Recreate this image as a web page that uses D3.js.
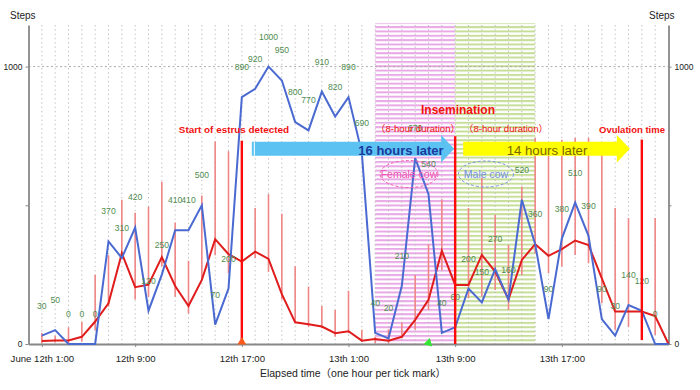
<!DOCTYPE html>
<html>
<head>
<meta charset="utf-8">
<script src="https://cdn.jsdelivr.net/npm/d3@7"></script>
<style>
  body { margin: 0; background: #fff; }
  svg { display: block; font-family: "Liberation Sans", Arial, "Noto Sans CJK JP", sans-serif; }
  .axis path, .axis line { stroke: #888; }
  .axis text { fill: #222; }
</style>
</head>
<body>
<div id="chart"></div>
<script>
// hourly readings, index 0 = June 12th 1:00
const steps = [30, 50, 0, 0, 0, 370, 310, 420, 120, 250, 410, 410, 500, 70, 200, 890,
  920, 1000, 950, 800, 770, 910, 820, 890, 690, 40, 20, 210, 670, 540, 40, 60,
  200, 150, 270, 160, 520, 360, 90, 380, 510, 390, 90, 30, 140, 120, 0, 0];
const average = [11, 13, 13, 26, 81, 147, 327, 205, 214, 313, 209, 137, 231, 378, 324, 297,
  333, 307, 180, 78, 71, 63, 39, 46, 12, 18, 12, 26, 87, 159, 336, 213,
  213, 321, 261, 161, 303, 360, 318, 342, 373, 357, 237, 117, 117, 117, 101, 0];
const rangeLow = [3, 5, 4, 8, 50, 135, 310, 160, 170, 280, 170, 110, 230, 320, 255, 255,
  310, 260, 160, 75, 62, 57, 26, 39, 8, 3, 3, 21, 51, 123, 267, 160,
  165, 171, 195, 123, 249, 327, 255, 279, 321, 291, 147, 51, 62, 60, 32, null];
const rangeHigh = [40, 30, 60, 80, 250, 320, 520, 473, 495, 585, 438, 300, 535, 730, 695, 540,
  490, 540, 470, 280, 207, 137, 123, 192, 51, 26, 53, 77, 249, 360, 522, 280,
  490, 600, 466, 357, 568, 743, 679, 736, 743, 743, 690, 490, 454, 450, 454, null];

const tickHours = [0, 7, 15, 23, 31, 39];
const tickLabels = ["June 12th 1:00", "12th 9:00", "12th 17:00", "13th 1:00", "13th 9:00", "13th 17:00"];
const stepTicks = [0, 500, 1000];

const estrusHour = 15;
const inseminationHour = 31;
const ovulationHour = 45;
const femaleWindow = [25, 31];
const maleWindow = [31, 37];
const markerHour = 29;

document.addEventListener("DOMContentLoaded", function () {
    const width = 700, height = 390;
    const svg = d3.select("#chart").append("svg")
        .attr("width", width).attr("height", height);

    const x = d3.scaleLinear().domain([-1, 47]).range([28.5, 668.5]);
    const y = d3.scaleLinear().domain([0, 1150]).range([344, 25]);

    // stripe patterns
    const defs = svg.append("defs");
    function stripes(id, color) {
        const p = defs.append("pattern").attr("id", id)
            .attr("patternUnits", "userSpaceOnUse")
            .attr("width", 10).attr("height", 4.35);
        p.append("rect").attr("width", 10).attr("height", 4.35).attr("fill", "#fff");
        p.append("rect").attr("width", 10).attr("height", 2).attr("fill", color);
    }
    stripes("pink", "#e9a9e6");
    stripes("green", "#c6de98");

    svg.append("rect")
        .attr("x", x(femaleWindow[0])).attr("width", x(femaleWindow[1]) - x(femaleWindow[0]))
        .attr("y", 23).attr("height", y(0) - 23)
        .attr("fill", "url(#pink)");
    svg.append("rect")
        .attr("x", x(maleWindow[0])).attr("width", x(maleWindow[1]) - x(maleWindow[0]))
        .attr("y", 23).attr("height", y(0) - 23)
        .attr("fill", "url(#green)");

    // dotted grid
    svg.append("g").selectAll("line")
        .data(d3.range(0, 47))
        .enter().append("line")
        .attr("x1", d => x(d)).attr("x2", d => x(d))
        .attr("y1", y(1150)).attr("y2", y(0))
        .attr("stroke", "#bdbdbd").attr("stroke-width", 1)
        .attr("stroke-dasharray", "1.3,3");
    svg.append("line")
        .attr("x1", x(-1)).attr("x2", x(47))
        .attr("y1", y(1000)).attr("y2", y(1000))
        .attr("stroke", "#aaa").attr("stroke-dasharray", "2,2.5");

    // range bars
    svg.append("g").selectAll("line")
        .data(steps.map((d, i) => i).filter(i => rangeLow[i] != null))
        .enter().append("line")
        .attr("x1", i => x(i)).attr("x2", i => x(i))
        .attr("y1", i => y(rangeHigh[i])).attr("y2", i => y(rangeLow[i]))
        .attr("stroke", "#f08585").attr("stroke-width", 1.6);

    // axes
    svg.append("g").attr("class", "axis")
        .attr("transform", `translate(0,${y(0)})`)
        .call(d3.axisBottom(x).tickValues(tickHours).tickFormat((d, i) => tickLabels[i])
            .tickSize(3).tickSizeOuter(0))
        .call(g => g.select(".domain").attr("stroke-width", 1.8))
        .call(g => g.selectAll("text").attr("font-size", 9.6).attr("dy", "1.2em"));

    svg.append("g").attr("class", "axis")
        .attr("transform", `translate(${x(-1)},0)`)
        .call(d3.axisLeft(y).tickValues(stepTicks).tickFormat(d => d === 500 ? "" : d)
            .tickSize(3).tickSizeOuter(0))
        .call(g => g.select(".domain").attr("stroke-width", 1.8))
        .call(g => g.selectAll("text").attr("font-size", 8.5).attr("fill", "#333"));

    svg.append("g").attr("class", "axis")
        .attr("transform", `translate(${x(47)},0)`)
        .call(d3.axisRight(y).tickValues(stepTicks).tickFormat(d => d === 500 ? "" : d)
            .tickSize(3).tickSizeOuter(0))
        .call(g => g.select(".domain").attr("stroke-width", 1.8))
        .call(g => g.selectAll("text").attr("font-size", 8.5).attr("fill", "#333"));

    svg.append("text").attr("x", 10).attr("y", 19).attr("font-size", 10).attr("fill", "#222").text("Steps");
    svg.append("text").attr("x", 649).attr("y", 19).attr("font-size", 10).attr("fill", "#222").text("Steps");
    svg.append("text").attr("x", 353).attr("y", 377).attr("text-anchor", "middle")
        .attr("font-size", 10.5).attr("fill", "#222")
        .text("Elapsed time（one hour per tick mark）");

    // lines
    const line = d3.line().x((d, i) => x(i)).y(d => y(d));
    svg.append("path").datum(average)
        .attr("d", line).attr("fill", "none")
        .attr("stroke", "#e01c1c").attr("stroke-width", 2);
    svg.append("path").datum(steps)
        .attr("d", line).attr("fill", "none")
        .attr("stroke", "#4a6ad2").attr("stroke-width", 2);

    // step labels
    svg.append("g").selectAll("text")
        .data(steps.slice(0, 47))
        .enter().append("text")
        .attr("x", (d, i) => x(i)).attr("y", d => y(d) - 27)
        .attr("text-anchor", "middle")
        .attr("font-size", 8.6).attr("fill", "#4f8c4f")
        .text(d => d);

    // event lines
    const events = [
        { h: estrusHour, top: 733 },
        { h: inseminationHour, top: 749 },
        { h: ovulationHour, top: 737, bottom: 14 }
    ];
    svg.append("g").selectAll("line")
        .data(events)
        .enter().append("line")
        .attr("x1", d => x(d.h)).attr("x2", d => x(d.h))
        .attr("y1", d => y(d.top)).attr("y2", d => y(d.bottom || 0))
        .attr("stroke", "#ff0a0a").attr("stroke-width", 2.4);

    svg.append("path")
        .attr("d", d3.symbol(d3.symbolTriangle, 34)())
        .attr("transform", `translate(${x(estrusHour)},${y(0) - 2})`)
        .attr("fill", "#ff5a1e");
    svg.append("path")
        .attr("d", d3.symbol(d3.symbolTriangle, 34)())
        .attr("transform", `translate(${x(markerHour)},${y(0) - 1}) rotate(15)`)
        .attr("fill", "#33e633");

    // arrows
    function arrow(x0, x1, color) {
        const top = 141.7, bot = 155.7, headTop = 135, headBot = 162.5, headLen = 13;
        const xm = x1 - headLen;
        svg.append("path")
            .attr("d", `M${x0},${top}L${xm},${top}L${xm},${headTop}L${x1},${(top + bot) / 2}` +
                `L${xm},${headBot}L${xm},${bot}L${x0},${bot}Z`)
            .attr("fill", color);
    }
    arrow(x(estrusHour) + 10, x(inseminationHour) - 1, "#5cc2f2");
    svg.append("line").attr("x1", x(estrusHour) + 12.5).attr("x2", x(estrusHour) + 12.5)
        .attr("y1", 141.7).attr("y2", 155.7).attr("stroke", "#fff").attr("stroke-width", 1);
    arrow(x(inseminationHour) + 8, x(ovulationHour) - 12, "#ffff00");

    svg.append("text").attr("x", 401).attr("y", 155).attr("text-anchor", "middle")
        .attr("font-size", 13).attr("font-weight", "bold").attr("fill", "#1a3a9e")
        .text("16 hours later");
    svg.append("text").attr("x", 547).attr("y", 155).attr("text-anchor", "middle")
        .attr("font-size", 13.2).attr("fill", "#7a6400")
        .text("14 hours later");

    // red annotation texts
    const red = "#f21010";
    svg.append("text").attr("x", 234).attr("y", 133).attr("text-anchor", "middle")
        .attr("font-size", 9.9).attr("font-weight", "bold").attr("fill", red)
        .text("Start of estrus detected");
    svg.append("text").attr("x", 458).attr("y", 114).attr("text-anchor", "middle")
        .attr("font-size", 12).attr("font-weight", "bold").attr("fill", red)
        .text("Insemination");
    svg.append("text").attr("x", 418).attr("y", 132).attr("text-anchor", "middle")
        .attr("font-size", 9.6).attr("fill", red)
        .text("（8-hour duration）");
    svg.append("text").attr("x", 506).attr("y", 132).attr("text-anchor", "middle")
        .attr("font-size", 9.6).attr("fill", red)
        .text("（8-hour duration）");
    svg.append("text").attr("x", 632).attr("y", 133).attr("text-anchor", "middle")
        .attr("font-size", 9.5).attr("font-weight", "bold").attr("fill", red)
        .text("Ovulation time");

    // cow ellipses
    svg.append("ellipse").attr("cx", 409).attr("cy", 174).attr("rx", 29).attr("ry", 13.5)
        .attr("fill", "none").attr("stroke", "#f060b0").attr("stroke-dasharray", "3,2");
    svg.append("text").attr("x", 409).attr("y", 178).attr("text-anchor", "middle")
        .attr("font-size", 10.5).attr("fill", "#f050b0").text("Female cow");
    svg.append("ellipse").attr("cx", 486).attr("cy", 174).attr("rx", 27.5).attr("ry", 13)
        .attr("fill", "none").attr("stroke", "#7a96e0").attr("stroke-dasharray", "3,2");
    svg.append("text").attr("x", 486).attr("y", 178).attr("text-anchor", "middle")
        .attr("font-size", 10.5).attr("fill", "#6f8de0").text("Male cow");
});
</script>
</body>
</html>
